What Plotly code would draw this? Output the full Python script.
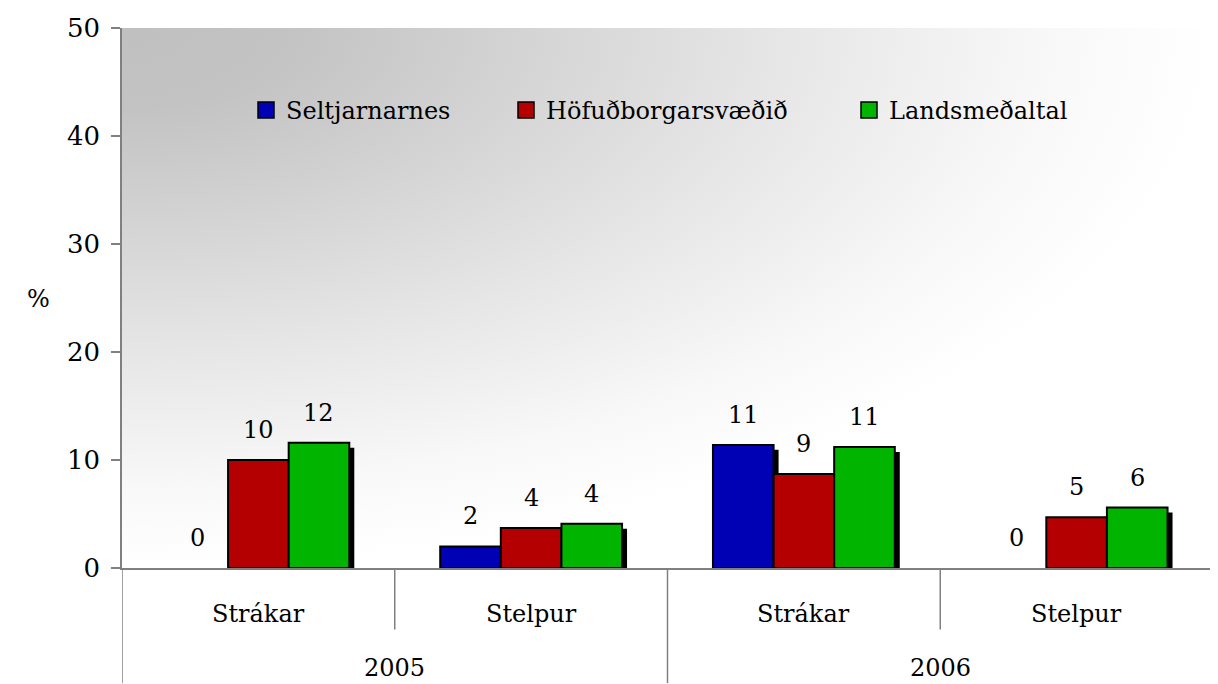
import base64
import plotly.graph_objects as go

# ---------------- data ----------------
categories = ["Strákar", "Stelpur", "Strákar", "Stelpur"]
category_year = ["2005", "2005", "2006", "2006"]
series_names = ["Seltjarnarnes", "Höfuðborgarsvæðið", "Landsmeðaltal"]
seltjarnarnes = [0.0, 2.0, 11.4, 0.0]
hofudborgarsvaedid = [10.0, 3.7, 8.7, 4.7]
landsmedaltal = [11.6, 4.1, 11.2, 5.6]
y_ticks = [0, 10, 20, 30, 40, 50]

series_values = [seltjarnarnes, hofudborgarsvaedid, landsmedaltal]
colors = ["#0000b4", "#b40000", "#00b400"]

FONT = "DejaVu Serif"
PAGE_OFF = 8  # default body margin of the html page
W, H = 1218 - PAGE_OFF, 684 - PAGE_OFF
ML, MR, MT, MB = 122 - PAGE_OFF, 5, 24 - PAGE_OFF, 116
PW, PH = W - ML - MR, H - MT - MB
YMAX = 50
n_cat = len(categories)
xs = list(range(n_cat))
unit_px = PW / n_cat

bar_w = 1 / 4.5
offsets = [-1.5 * bar_w, -0.5 * bar_w, 0.5 * bar_w]
shadow_dx = 5 / unit_px
shadow_dy = 5 * YMAX / PH

fig = go.Figure()

# shadows first
for vals, off in zip(series_values, offsets):
    fig.add_trace(go.Bar(
        x=xs, y=[max(v - shadow_dy, 0) for v in vals],
        width=bar_w, offset=off + shadow_dx,
        marker=dict(color="black", line=dict(width=0)),
        showlegend=False, hoverinfo="skip",
    ))

# bars
for name, vals, off, col in zip(series_names, series_values, offsets, colors):
    fig.add_trace(go.Bar(
        x=xs, y=vals, width=bar_w, offset=off, name=name,
        marker=dict(color=col, line=dict(color="black",
                                         width=[2 if v > 0 else 0 for v in vals])),
        showlegend=False,
    ))

# legend entries (separate legends for spacing)
legend_ids = ["legend", "legend2", "legend3"]
for name, col, lid in zip(series_names, colors, legend_ids):
    fig.add_trace(go.Scatter(
        x=[None], y=[None], mode="markers", name=name, legend=lid,
        marker=dict(symbol="square", size=16, color=col,
                    line=dict(color="black", width=1.5)),
    ))

annotations = []
# value labels
for vals, off in zip(series_values, offsets):
    for x, v in zip(xs, vals):
        annotations.append(dict(
            x=x + off + bar_w / 2, y=v, xref="x", yref="y",
            text=f"{v:.0f}", showarrow=False, yanchor="bottom", yshift=14,
            font=dict(family=FONT, size=24, color="black"),
        ))

# category labels
for x, c in zip(xs, categories):
    annotations.append(dict(
        x=x, y=-46 / PH, xref="x", yref="paper", text=c, showarrow=False,
        yanchor="middle", font=dict(family=FONT, size=24, color="black"),
    ))
# year labels
years = []
for y in category_year:
    if y not in years:
        years.append(y)
for yr in years:
    idx = [i for i, c in enumerate(category_year) if c == yr]
    annotations.append(dict(
        x=(idx[0] + idx[-1]) / 2, y=-101 / PH, xref="x", yref="paper",
        text=yr, showarrow=False, yanchor="middle",
        font=dict(family=FONT, size=24, color="black"),
    ))
# y axis title
annotations.append(dict(
    x=(25 - 122) / PW, y=(568 - 297) / PH, xref="paper", yref="paper",
    text="%", showarrow=False, font=dict(family=FONT, size=24, color="black"),
))

# dividers
shapes = []
for b in range(n_cat + 1):
    left = category_year[b - 1] if b > 0 else None
    right = category_year[b] if b < n_cat else None
    long_div = left != right
    shapes.append(dict(
        type="line", xref="x", yref="paper", x0=b - 0.5, x1=b - 0.5,
        y0=0, y1=(-MB / PH) if long_div else -62 / PH,
        line=dict(color="#808080", width=1.5), layer="above",
    ))

svg = (
    "<svg xmlns='http://www.w3.org/2000/svg' width='1091' height='544' "
    "preserveAspectRatio='none'><defs>"
    "<radialGradient id='g' cx='0' cy='0' r='1' fx='0' fy='0'>"
    "<stop offset='0' stop-color='#c0c0c0'/>"
    "<stop offset='0.15' stop-color='#c3c3c3'/>"
    "<stop offset='0.6' stop-color='#e6e6e6'/>"
    "<stop offset='0.85' stop-color='#f8f8f8'/>"
    "<stop offset='1' stop-color='#ffffff'/>"
    "</radialGradient></defs>"
    "<rect x='0' y='0' width='1091' height='544' fill='url(#g)'/></svg>"
)
src = "data:image/svg+xml;base64," + base64.b64encode(svg.encode()).decode()

legend_common = dict(
    orientation="h", yanchor="middle", y=(568 - 107) / PH, xanchor="left",
    bgcolor="rgba(0,0,0,0)", font=dict(family=FONT, size=24, color="black"),
)
lx = [(262 - 16 - 122) / PW, (522 - 16 - 122) / PW, (865 - 16 - 122) / PW]

fig.update_layout(
    width=W, height=H, autosize=False,
    margin=dict(l=ML, r=MR, t=MT, b=MB, pad=0),
    paper_bgcolor="white", plot_bgcolor="rgba(0,0,0,0)",
    barmode="overlay",
    font=dict(family=FONT, size=24, color="black"),
    xaxis=dict(range=[-0.5, n_cat - 0.5], showticklabels=False, ticks="",
               showgrid=False, zeroline=False, showline=True,
               linecolor="#808080", linewidth=1.5),
    yaxis=dict(range=[0, YMAX], tickvals=y_ticks, ticks="outside", ticklen=9,
               tickcolor="#808080", tickwidth=1.5, showgrid=False,
               zeroline=False, showline=True, linecolor="#808080",
               linewidth=1.5, tickfont=dict(family=FONT, size=26, color="black"),
               ticklabelstandoff=6),
    legend=dict(x=lx[0], **legend_common),
    legend2=dict(x=lx[1], **legend_common),
    legend3=dict(x=lx[2], **legend_common),
    annotations=annotations,
    shapes=shapes,
    images=[dict(source=src, xref="paper", yref="paper", x=0, y=1,
                 sizex=1, sizey=1, xanchor="left", yanchor="top",
                 sizing="stretch", layer="below")],
)

fig.write_html("out.html")
